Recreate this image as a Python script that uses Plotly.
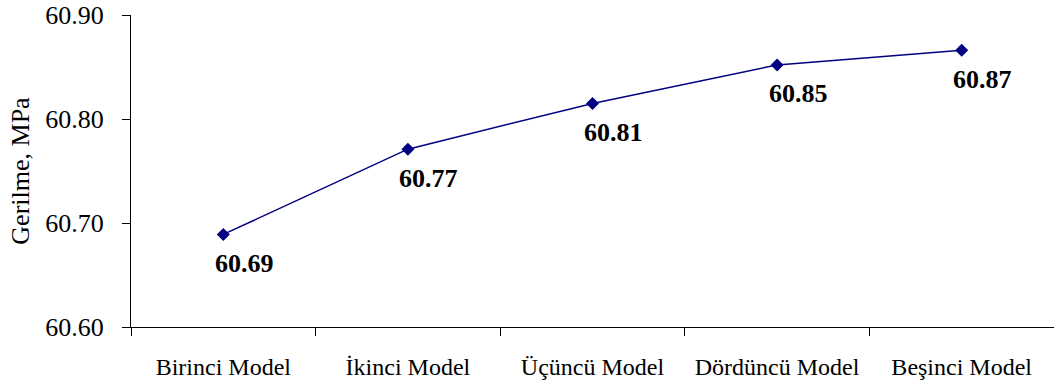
import plotly.graph_objects as go

# Stress values for each model
models = ["Birinci Model", "İkinci Model", "Üçüncü Model", "Dördüncü Model", "Beşinci Model"]
stress = [60.689, 60.771, 60.815, 60.852, 60.866]

y_ticks = [60.60, 60.70, 60.80, 60.90]
y_tick_text = ["60.60", "60.70", "60.80", "60.90"]

NAVY = "#000080"
FONT = "Times New Roman, Liberation Serif, serif"

fig = go.Figure()
fig.add_trace(go.Scatter(
    x=models,
    y=stress,
    mode="lines+markers",
    line=dict(color=NAVY, width=1.5),
    marker=dict(symbol="diamond", size=10, color=NAVY),
    showlegend=False,
    hoverinfo="skip",
))

# Value labels, placed below and to the right of each point
for m, v in zip(models, stress):
    fig.add_annotation(
        x=m, y=v, text=f"<b>{v:.2f}</b>", showarrow=False,
        xshift=21, yshift=-29,
        font=dict(family=FONT, size=26, color="black"),
    )

fig.update_layout(
    width=1054, height=387,
    margin=dict(l=131, r=0, t=15, b=60),
    paper_bgcolor="white", plot_bgcolor="white",
    font=dict(family=FONT, size=24, color="black"),
)
fig.update_xaxes(
    type="category", range=[-0.5, 4.5],
    showline=True, linecolor="black", linewidth=1,
    ticks="outside", ticklen=8, tickcolor="black", tickson="boundaries",
    showgrid=False, zeroline=False,
    tickfont=dict(family=FONT, size=24),
    ticklabelstandoff=18,
)
fig.update_yaxes(
    range=[60.60, 60.90],
    tickvals=y_ticks, ticktext=y_tick_text,
    showline=True, linecolor="black", linewidth=1,
    ticks="outside", ticklen=8, tickcolor="black",
    showgrid=False, zeroline=False,
    tickfont=dict(family=FONT, size=26),
    ticklabelstandoff=13,
    title=dict(text="Gerilme, MPa", font=dict(family=FONT, size=26), standoff=8),
)

fig.write_html("out.html")
